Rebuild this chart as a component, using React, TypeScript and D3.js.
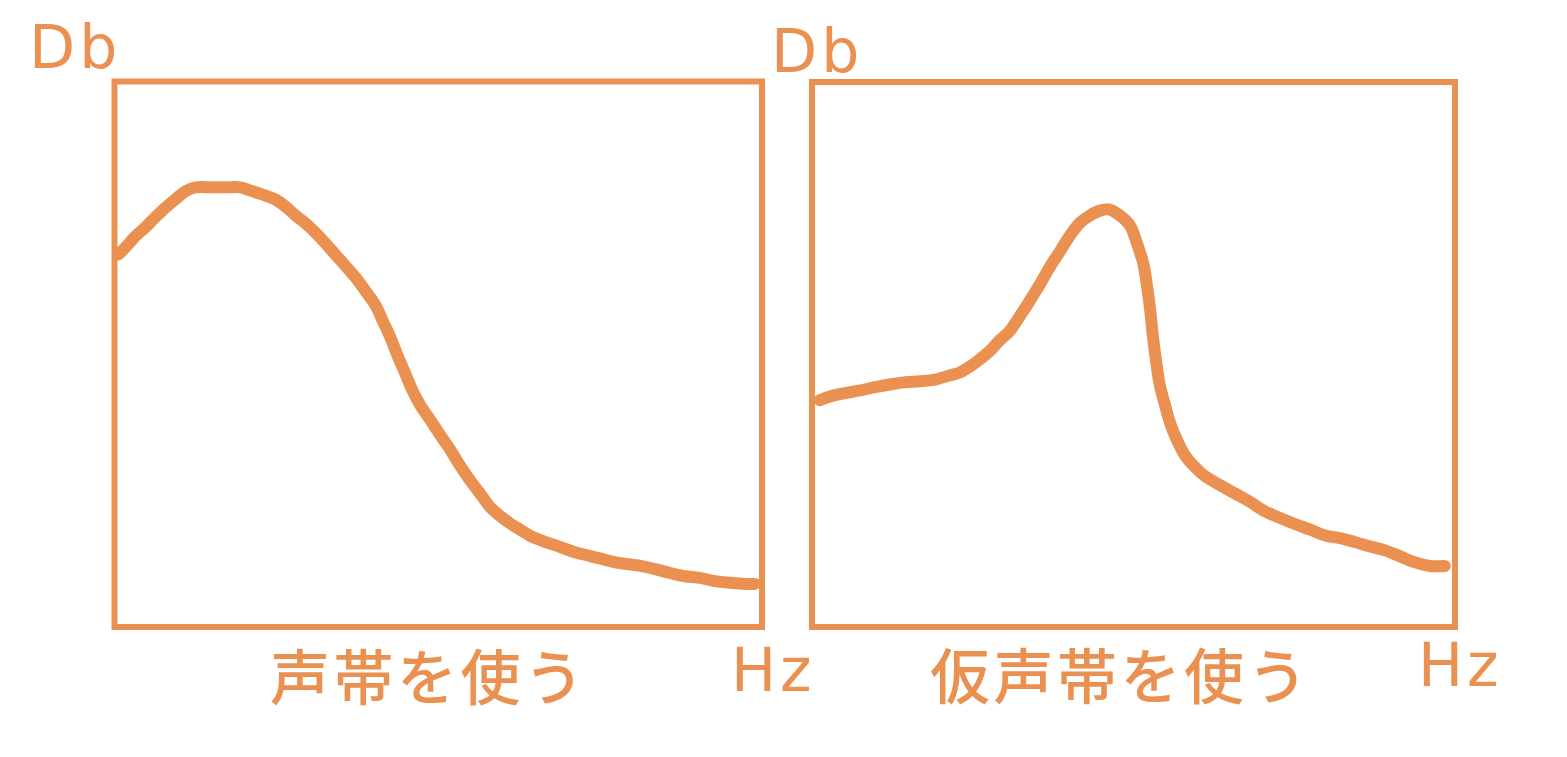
import React from "react";
import * as d3 from "d3";

const COLOR = "#EA9152";

// Left panel: 声帯を使う (frequency %, level %)
const chestFreq = [0.6, 1.7, 3.2, 4.8, 6.3, 7.9, 9.4, 11.0, 12.5, 14.8, 17.1, 19.4, 21.0, 22.8, 24.8, 26.4, 27.9, 29.5, 31.0, 32.6, 34.1, 35.6, 37.2, 38.7, 40.3, 41.4, 42.6, 43.7, 44.9, 46.0, 47.2, 48.8, 50.3, 51.9, 53.4, 54.9, 56.5, 58.0, 59.6, 61.1, 62.7, 64.2, 66.5, 68.8, 71.1, 73.5, 75.8, 78.1, 81.2, 83.5, 85.8, 88.1, 90.4, 92.7, 95.1, 97.4, 98.9];
const chestDb = [68.3, 69.6, 71.6, 73.3, 75.1, 76.9, 78.4, 79.9, 80.6, 80.6, 80.6, 80.6, 80.0, 79.3, 78.4, 77.1, 75.5, 74.0, 72.3, 70.3, 68.3, 66.3, 64.1, 61.7, 59.0, 56.2, 53.1, 49.8, 46.5, 43.4, 40.7, 37.9, 35.2, 32.4, 29.5, 26.9, 24.4, 22.0, 20.3, 19.0, 17.8, 16.7, 15.6, 14.7, 13.7, 13.0, 12.3, 11.7, 11.2, 10.6, 9.9, 9.3, 9.0, 8.4, 8.1, 7.9, 7.9];

// Right panel: 仮声帯を使う
const falseFreq = [1.2, 2.8, 5.1, 7.5, 9.8, 12.1, 14.5, 16.8, 19.1, 21.5, 23.0, 24.6, 26.1, 27.7, 29.2, 30.8, 32.3, 33.9, 35.5, 37.0, 38.6, 40.1, 41.7, 43.2, 44.8, 46.3, 47.9, 49.5, 50.5, 51.5, 52.1, 52.6, 53.0, 53.5, 54.1, 54.9, 55.7, 56.8, 58.0, 59.6, 61.1, 63.5, 65.8, 68.2, 70.5, 72.8, 75.1, 77.4, 79.8, 82.1, 84.4, 86.7, 89.0, 91.4, 93.7, 96.1, 98.4];
const falseDb = [41.6, 42.3, 42.9, 43.4, 44.0, 44.5, 44.9, 45.1, 45.4, 46.2, 46.7, 47.8, 49.1, 50.7, 52.6, 54.4, 57.0, 59.9, 63.0, 66.1, 69.0, 71.8, 74.2, 75.5, 76.4, 76.6, 75.5, 73.6, 70.5, 66.8, 62.6, 58.1, 53.5, 48.9, 44.3, 40.7, 37.4, 34.2, 31.5, 29.3, 27.7, 26.0, 24.5, 22.9, 21.2, 20.0, 18.9, 17.9, 16.8, 16.3, 15.6, 14.8, 14.1, 13.0, 11.9, 11.2, 11.2];

const panelTitles = ["声帯を使う", "仮声帯を使う"];
const yAxisLabel = "Db";
const xAxisLabel = "Hz";

type Panel = {
  x0: number; x1: number; y0: number; y1: number;
  freq: number[]; db: number[]; title: string;
  dbX: number; dbY: number; hzX: number; hzY: number; titleX: number; titleY: number;
};

const panels: Panel[] = [
  { x0: 114.5, x1: 762, y0: 81.5, y1: 627, freq: chestFreq, db: chestDb, title: panelTitles[0],
    dbX: 29, dbY: 68, hzX: 731, hzY: 691, titleX: 270, titleY: 700 },
  { x0: 812, x1: 1455, y0: 82, y1: 627, freq: falseFreq, db: falseDb, title: panelTitles[1],
    dbX: 771, dbY: 72, hzX: 1418, hzY: 686, titleX: 930, titleY: 699 },
];

const latin = "'DejaVu Sans', Verdana, sans-serif";
const cjk = "'Noto Sans CJK JP', 'Noto Sans CJK SC', sans-serif";

function PanelView({ p }: { p: Panel }) {
  const x = d3.scaleLinear().domain([0, 100]).range([p.x0, p.x1]);
  const y = d3.scaleLinear().domain([0, 100]).range([p.y1, p.y0]);
  const pts: [number, number][] = p.freq.map((f, i) => [f, p.db[i]]);
  const line = d3
    .line<[number, number]>()
    .x((d) => x(d[0]))
    .y((d) => y(d[1]))
    .curve(d3.curveCatmullRom.alpha(0.5));
  return (
    <g>
      <rect x={p.x0} y={p.y0} width={p.x1 - p.x0} height={p.y1 - p.y0} fill="none" stroke={COLOR} strokeWidth={6} />
      <path d={line(pts) ?? ""} fill="none" stroke={COLOR} strokeWidth={12} strokeLinecap="round" strokeLinejoin="round" />
      <text x={p.dbX} y={p.dbY} fill={COLOR} fontFamily={latin} fontSize={60} letterSpacing={4}>{yAxisLabel}</text>
      <text x={p.hzX} y={p.hzY} fill={COLOR} fontFamily={latin} fontSize={60} letterSpacing={4}>{xAxisLabel}</text>
      <text x={p.titleX} y={p.titleY} fill={COLOR} fontFamily={cjk} fontSize={60} fontWeight={500} letterSpacing={3.5}>{p.title}</text>
    </g>
  );
}

export default function App() {
  return (
    <svg width={1567} height={757} style={{ position: "absolute", left: 0, top: 0, background: "#fff" }}>
      <rect width={1567} height={757} fill="#fff" />
      {panels.map((p, i) => (
        <PanelView key={i} p={p} />
      ))}
    </svg>
  );
}
